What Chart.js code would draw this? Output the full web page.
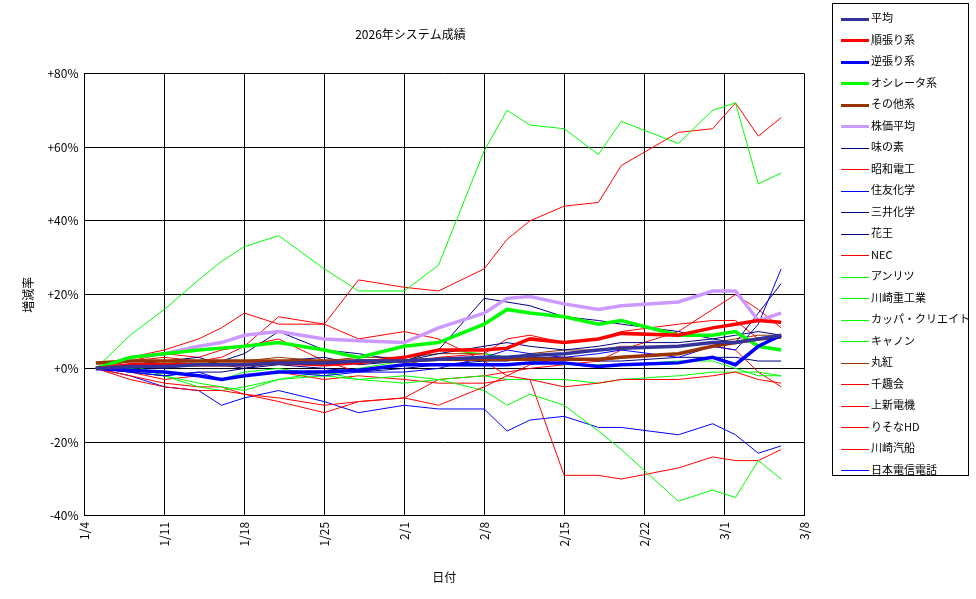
<!DOCTYPE html>
<html><head><meta charset="utf-8">
<script src="https://cdn.jsdelivr.net/npm/chart.js@4/dist/chart.umd.min.js"></script>
<style>
body{margin:0;background:#fff;font-family:"Noto Sans CJK JP",sans-serif;}
#wrap{position:absolute;left:0;top:0;width:976px;height:599px;}
#legend{position:absolute;left:832px;top:3px;width:137px;height:473px;border:1px solid #000;background:#fff;font-size:11px;padding-top:3px;box-sizing:border-box;}
#legend div{height:21.5px;line-height:21.5px;white-space:nowrap;}
#legend span{display:inline-block;width:28px;margin:0 2px 0 8px;vertical-align:middle;}
</style></head><body>
<div id="wrap"><canvas id="mycanvas" width="976" height="599"></canvas></div>
<div id="legend"></div>
<script>
// x positions are days since 1/4
var days = [1,4,7,10,12,14,17,21,24,28,31,35,37,39,42,45,47,52,55,57,59,61];
var tickLabels = ['1/4','1/11','1/18','1/25','2/1','2/8','2/15','2/22','3/1','3/8'];

var avg      = [0,0.5,0.5,1,1,1,1.5,1.5,2,2,2.5,3,3,3.5,4,5,5.5,6,7,7,8,9];
var trend    = [0,1,1,1,1,1,1.5,1,1.5,3,5,5,5.5,8,7,8,9.5,9,11,12,13,12.5];
var contra   = [0,-0.5,-1,-2,-3,-2,-1,-1,-0.5,1,1,1,1,1.5,1.5,0.5,1,1.5,3,1,6,9];
var osc      = [0,3,4,5,5.5,6,7,5,3,6,7,12,16,15,14,12,13,9,9,10,6,5];
var other    = [1.5,2,2,2,2,2,2,2,2,2,2.5,2.5,2.5,2.5,2.5,2.5,3,4,6,7,8,8.5];
var nikkei   = [0,3,4,6,7,9,10,8,7.5,7,11,15,19,19.5,17.5,16,17,18,21,21,13,15];
var ajinomoto= [0,1,2,3,1,0,2,3,1,2,4,6,7,6,5,6,7,7,8,9,10,9];
var showa    = [0,-3,-5,-6,-6,-7,-8,-10,-9,-8,-10,-5,-2,-3,-5,-4,-3,-3,-2,-1,-3,-4];
var sumitomo = [0,-1,-2,-1,-3,-2,-1,-2,-1,-1,0,3,5,4,3,4,5,3,6,5,12,27];
var mitsui   = [0,1,0,1,2,4,10,5,4,2,5,19,18,17,14,13,12,10,8,7,15,23];
var kao      = [0,-1,-2,-1,-1,0,1,0,-1,0,1,2,2,3,3,2,2,3,3,3,2,2];
var nec      = [0,2,3,2,3,6,8,2,-1,1,3,4,8,9,7,8,10,12,13,13,8,9];
var anritsu  = [0,-1,-2,-4,-5,-6,-3,-1,-3,-2,-3,-2,-3,-3,-3,-4,-3,-2,-1,-1,-1,-2];
var khi      = [0,1,-2,-5,-6,-5,-3,-2,0,2,5,4,3,2,1,1,1,2,2,0,-2,-2];
var kappa    = [0,9,16,24,29,33,36,27,21,21,28,59,70,66,65,58,67,61,70,72,50,53];
var canon    = [0,0,-1,-2,-3,-1,0,-2,-3,-4,-3,-6,-10,-7,-10,-17,-22,-36,-33,-35,-25,-30];
var marubeni = [0,1,2,1,2,2,3,2,3,3,4,4,3,4,5,5,6,6,7,8,9,9];
var senshukai= [0,-2,-4,-5,-5,-7,-9,-12,-9,-8,-3,-2,-1,0,1,2,3,4,6,5,-1,-5];
var joshin   = [0,-1,-3,-2,-3,-2,-1,-3,-2,-3,-4,-4,-3,-3,-29,-29,-30,-27,-24,-25,-25,-22];
var resona   = [0,2,4,3,5,6,14,12,8,10,8,2,-2,1,3,2,5,10,16,20,16,11];
var kline    = [0,3,5,8,11,15,12,12,24,22,21,27,35,40,44,45,55,64,65,72,63,68];
var ntt      = [0,-2,-5,-6,-10,-8,-6,-9,-12,-10,-11,-11,-17,-14,-13,-16,-16,-18,-15,-18,-23,-21];

function pts(arr){ return arr.map(function(v,i){ return {x:days[i], y:v}; }); }

var series = [
  ['平均',avg,'#333399',3.5],
  ['順張り系',trend,'#ff0000',3.5],
  ['逆張り系',contra,'#0000ff',3.5],
  ['オシレータ系',osc,'#00ff00',3.5],
  ['その他系',other,'#993300',3.5],
  ['株価平均',nikkei,'#cc99ff',3.5],
  ['味の素',ajinomoto,'#000080',1],
  ['昭和電工',showa,'#ff0000',1],
  ['住友化学',sumitomo,'#0000ff',1],
  ['三井化学',mitsui,'#000080',1],
  ['花王',kao,'#000080',1],
  ['NEC',nec,'#ff0000',1],
  ['アンリツ',anritsu,'#00ff00',1],
  ['川崎重工業',khi,'#00ff00',1],
  ['カッパ・クリエイト',kappa,'#00ff00',1],
  ['キャノン',canon,'#00ff00',1],
  ['丸紅',marubeni,'#993300',1],
  ['千趣会',senshukai,'#ff0000',1],
  ['上新電機',joshin,'#ff0000',1],
  ['りそなHD',resona,'#ff0000',1],
  ['川崎汽船',kline,'#ff0000',1],
  ['日本電信電話',ntt,'#0000ff',1]
];

var datasets = series.map(function(s, i){
  return {label:s[0], data:pts(s[1]), borderColor:s[2], backgroundColor:s[2],
    borderWidth:s[3], pointRadius:0, tension:0, order: i < 6 ? 0 : 1};
});

var legend = document.getElementById('legend');
series.forEach(function(s){
  var d = document.createElement('div');
  d.innerHTML = '<span style="height:' + (s[3] > 2 ? 3 : 1) + 'px;background:' + s[2] + '"></span>' + s[0];
  legend.appendChild(d);
});

Chart.defaults.font.family = '"Noto Sans CJK JP", sans-serif';
Chart.defaults.font.size = 12;
Chart.defaults.color = '#000';

var ctx = document.getElementById('mycanvas');
var chart = new Chart(ctx, {
  type: 'line',
  data: {datasets: datasets},
  options: {
    responsive: false,
    animation: false,
    layout: {padding: {left: 17, right: 172, top: 13, bottom: 14}},
    plugins: {
      legend: {display: false},
      title: {display: true, text: '2026年システム成績', font: {size: 12, weight: 'normal'}, padding: {top: 14, bottom: 32}}
    },
    scales: {
      x: {
        type: 'linear', min: 0, max: 63,
        afterBuildTicks: function(axis){ axis.ticks = tickLabels.map(function(t, i){ return {value: i * 7}; }); },
        ticks: {minRotation: 90, maxRotation: 90, padding: 6,
          callback: function(v){ return tickLabels[v / 7]; }},
        grid: {color: '#000', lineWidth: 1, drawTicks: false},
        border: {color: '#000'},
        title: {display: true, text: '日付', padding: {top: 18, bottom: 0}}
      },
      y: {
        min: -40, max: 80,
        ticks: {stepSize: 20, padding: 6,
          callback: function(v){ return (v >= 0 ? '+' : '') + v + '%'; }},
        grid: {color: '#000', lineWidth: 1, drawTicks: false},
        border: {color: '#000'},
        title: {display: true, text: '増減率', padding: {bottom: 6}}
      }
    }
  }
});
</script>
</body></html>
